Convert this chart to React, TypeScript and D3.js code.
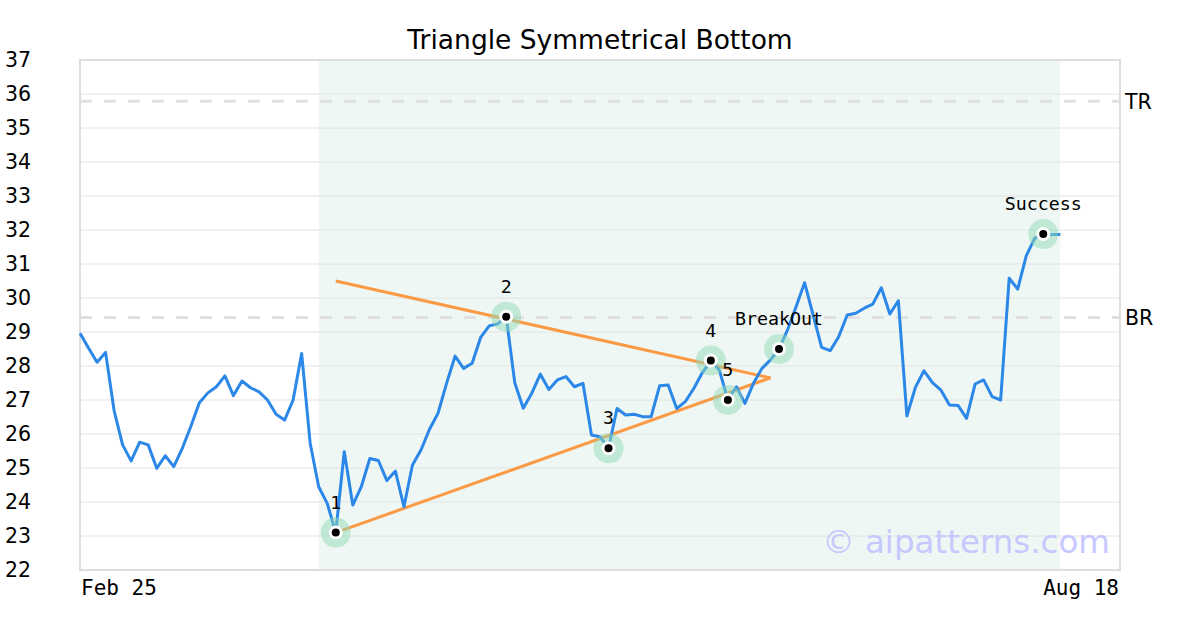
import React from "react";
import * as d3 from "d3";

const title = "Triangle Symmetrical Bottom";
const yTicks = [22, 23, 24, 25, 26, 27, 28, 29, 30, 31, 32, 33, 34, 35, 36, 37];
const xLabels = ["Feb 25", "Aug 18"];
const prices = [
  28.96, 28.53, 28.11, 28.4, 26.69, 25.68, 25.21, 25.76, 25.68, 24.99,
  25.36, 25.04, 25.58, 26.22, 26.92, 27.21, 27.39, 27.71, 27.13, 27.56,
  27.36, 27.24, 27.0, 26.58, 26.41, 27.0, 28.37, 25.73, 24.45, 23.96,
  23.1, 25.48, 23.91, 24.45, 25.28, 25.22, 24.63, 24.91, 23.86, 25.09,
  25.53, 26.14, 26.61, 27.49, 28.29, 27.93, 28.08, 28.84, 29.18, 29.24,
  29.45, 27.51, 26.76, 27.2, 27.76, 27.31, 27.59, 27.69, 27.39, 27.49,
  25.97, 25.92, 25.58, 26.75, 26.56, 26.58, 26.51, 26.51, 27.42, 27.44,
  26.75, 26.95, 27.34, 27.8, 28.16, 27.88, 27.0, 27.39, 26.9, 27.49,
  27.93, 28.18, 28.5, 29.06, 29.74, 30.45, 29.5, 28.55, 28.45, 28.86,
  29.5, 29.55, 29.7, 29.82, 30.3, 29.53, 29.92, 26.53, 27.37, 27.86,
  27.51, 27.29, 26.85, 26.84, 26.46, 27.47, 27.59, 27.1, 27.0, 30.58,
  30.26, 31.24, 31.76, 31.87, 31.87, 31.87,
];
const pivotLabels = ["1", "2", "3", "4", "5", "BreakOut", "Success"];
const pivotIndex = [30, 50, 62, 74, 76, 82, 113];
const pivotValue = [23.1, 29.45, 25.58, 28.16, 27.0, 28.5, 31.88];
const upperLine = [
  { i: 30, v: 30.5 },
  { i: 81, v: 27.65 },
];
const lowerLine = [
  { i: 30, v: 23.1 },
  { i: 81, v: 27.65 },
];
const levelNames = ["TR", "BR"];
const levelValues = [35.79, 29.43];
const shadeRange = [28, 115];
const xDomainMax = 122;

const W = 1200;
const H = 630;
const left = 80;
const right = 1120;
const top = 60;
const bottom = 570;

export default function App() {
  const x = d3.scaleLinear().domain([0, xDomainMax]).range([left, right]);
  const y = d3.scaleLinear().domain([22, 37]).range([bottom, top]);
  const line = d3
    .line<number>()
    .x((_, i) => x(i))
    .y((d) => y(d));
  const segLine = d3
    .line<{ i: number; v: number }>()
    .x((d) => x(d.i))
    .y((d) => y(d.v));
  const mono = "'DejaVu Sans Mono', monospace";
  const sans = "'DejaVu Sans', sans-serif";
  return (
    <svg width={W} height={H} style={{ position: "absolute", left: 0, top: 0 }}>
      <rect width={W} height={H} fill="#ffffff" />
      <text x={600} y={49} textAnchor="middle" fontFamily={sans} fontSize={26.5} fill="#000">
        {title}
      </text>
      <rect
        x={x(shadeRange[0])}
        y={top}
        width={x(shadeRange[1]) - x(shadeRange[0])}
        height={bottom - top}
        fill="#eff7f4"
      />
      {yTicks.map((t) => (
        <g key={t}>
          {t > 22 && t < 37 && (
            <line x1={left} x2={right} y1={y(t)} y2={y(t)} stroke="#e2e2e2" strokeWidth={1} />
          )}
          <text x={5} y={y(t)} dy="0.36em" fontFamily={sans} fontSize={20.5} fill="#000">
            {t}
          </text>
        </g>
      ))}
      {levelValues.map((v, k) => (
        <g key={levelNames[k]}>
          <line
            x1={left}
            x2={right}
            y1={y(v)}
            y2={y(v)}
            stroke="#e0e0e0"
            strokeWidth={3}
            strokeDasharray="12,12"
          />
          <text x={1125} y={y(v)} dy="0.36em" fontFamily={sans} fontSize={20.5} fill="#000">
            {levelNames[k]}
          </text>
        </g>
      ))}
      <rect
        x={left}
        y={top}
        width={right - left}
        height={bottom - top}
        fill="none"
        stroke="#dedede"
        strokeWidth={2}
      />
      <path d={segLine(upperLine) || ""} fill="none" stroke="#fa9a45" strokeWidth={3} />
      <path d={segLine(lowerLine) || ""} fill="none" stroke="#fa9a45" strokeWidth={3} />
      <path d={line(prices) || ""} fill="none" stroke="#2b87e8" strokeWidth={3} strokeLinejoin="round" />
      {pivotIndex.map((pi, k) => (
        <g key={pivotLabels[k]}>
          <circle cx={x(pi)} cy={y(pivotValue[k])} r={15} fill="#8fd9b6" fillOpacity={0.5} />
          <circle cx={x(pi)} cy={y(pivotValue[k])} r={7} fill="#ffffff" />
          <circle cx={x(pi)} cy={y(pivotValue[k])} r={4} fill="#000000" />
          <text
            x={x(pi)}
            y={y(pivotValue[k]) - 24}
            textAnchor="middle"
            fontFamily={mono}
            fontSize={18.3}
            fill="#000"
          >
            {pivotLabels[k]}
          </text>
        </g>
      ))}
      <text x={81} y={595} fontFamily={mono} fontSize={21} fill="#000">
        {xLabels[0]}
      </text>
      <text x={1119} y={595} textAnchor="end" fontFamily={mono} fontSize={21} fill="#000">
        {xLabels[1]}
      </text>
      <text x={1110} y={553} textAnchor="end" fontFamily={sans} fontSize={32.5} fill="#c8c8ff">
        © aipatterns.com
      </text>
    </svg>
  );
}
